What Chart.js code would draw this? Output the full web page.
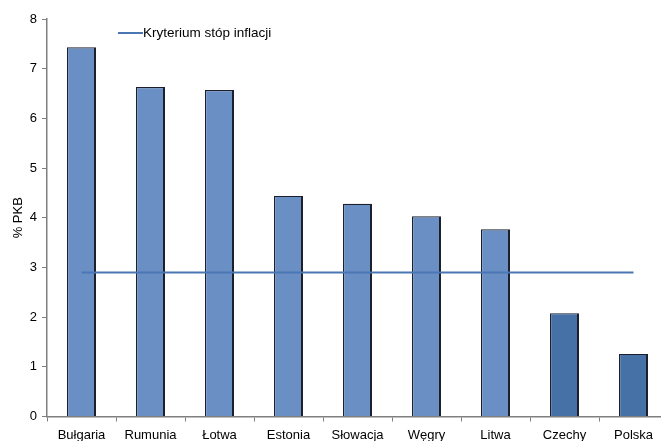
<!DOCTYPE html>
<html>
<head>
<meta charset="utf-8">
<script src="https://cdn.jsdelivr.net/npm/chart.js@4/dist/chart.umd.min.js"></script>
<style>
  html, body { margin: 0; padding: 0; background: #fff; overflow: hidden; }
  #wrap { width: 672px; height: 441px; position: relative; }
</style>
</head>
<body>
<div id="wrap"><canvas id="c"></canvas></div>
<script>
// Deficyt sektora finansów publicznych (% PKB) wobec kryterium
const countries = ['Bułgaria', 'Rumunia', 'Łotwa', 'Estonia', 'Słowacja', 'Węgry', 'Litwa', 'Czechy', 'Polska'];
const values = [7.43, 6.63, 6.57, 4.44, 4.28, 4.03, 3.77, 2.08, 1.26];
const criterion = [2.9, 2.9, 2.9, 2.9, 2.9, 2.9, 2.9, 2.9, 2.9];
const yTicks = [0, 1, 2, 3, 4, 5, 6, 7, 8];
const criterionLabel = 'Kryterium stóp inflacji';

const lightBlue = '#6a8fc4';
const darkBlue = '#4671a6';
const lineBlue = '#4a76b4';
const barColors = countries.map(c => (c === 'Czechy' || c === 'Polska') ? darkBlue : lightBlue);

const FONT = 'Liberation Sans, Arial, sans-serif';

// legend drawn inside the plot area, near its top
const legendInside = {
  id: 'legendInside',
  afterDraw(chart) {
    const ctx = chart.ctx;
    const x0 = 118, y0 = 33;
    ctx.save();
    ctx.strokeStyle = lineBlue;
    ctx.lineWidth = 2;
    ctx.beginPath();
    ctx.moveTo(x0, y0);
    ctx.lineTo(x0 + 25, y0);
    ctx.stroke();
    ctx.fillStyle = '#000';
    ctx.font = '13.5px ' + FONT;
    ctx.textBaseline = 'middle';
    ctx.fillText(criterionLabel, x0 + 25, y0);
    ctx.restore();
  }
};

new Chart(document.getElementById('c'), {
  data: {
    labels: countries,
    datasets: [
      {
        type: 'line',
        label: criterionLabel,
        data: criterion,
        borderColor: lineBlue,
        borderWidth: 2,
        pointRadius: 0,
        fill: false,
        order: 0
      },
      {
        type: 'bar',
        label: '% PKB',
        data: values,
        backgroundColor: barColors,
        borderColor: '#1a1f2b',
        borderWidth: { left: 1.2, top: 1.2, right: 2, bottom: 0 },
        borderSkipped: false,
        barPercentage: 0.42,
        categoryPercentage: 1,
        order: 1
      }
    ]
  },
  options: {
    responsive: true,
    maintainAspectRatio: false,
    animation: false,
    devicePixelRatio: 1,
    layout: { padding: { top: 19, right: 4, left: 0, bottom: 0 } },
    plugins: {
      legend: { display: false },
      tooltip: { enabled: false }
    },
    scales: {
      x: {
        offset: true,
        grid: {
          offset: true,
          drawOnChartArea: false,
          drawTicks: true,
          tickLength: 5,
          color: '#7f7f7f',
          lineWidth: 1
        },
        border: { color: '#7f7f7f', width: 1.5 },
        ticks: {
          color: '#000',
          font: { family: FONT, size: 13 },
          padding: 6,
          maxRotation: 0,
          autoSkip: false
        },
        afterFit(scale) { scale.height = 24.5; }
      },
      y: {
        min: 0,
        max: 8,
        afterBuildTicks(scale) { scale.ticks = yTicks.map(v => ({ value: v })); },
        grid: {
          drawOnChartArea: false,
          drawTicks: true,
          tickLength: 5,
          color: '#7f7f7f',
          lineWidth: 1
        },
        border: { color: '#7f7f7f', width: 1.5 },
        ticks: {
          color: '#000',
          font: { family: FONT, size: 13 },
          padding: 5
        },
        title: {
          display: true,
          text: '% PKB',
          color: '#000',
          font: { family: FONT, size: 13 },
          padding: { top: 11, bottom: 6 }
        },
        afterFit(scale) { scale.width = 47; }
      }
    }
  },
  plugins: [legendInside]
});
</script>
</body>
</html>
